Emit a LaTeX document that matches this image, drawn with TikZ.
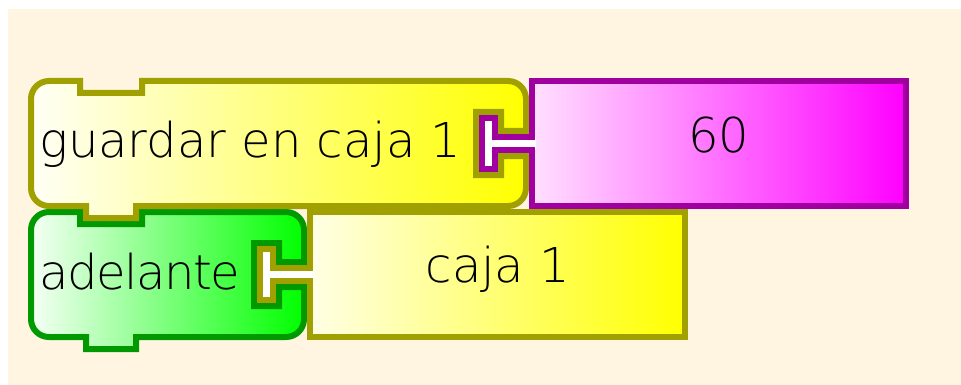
\documentclass[tikz,border=0pt]{standalone}
\usepackage{fontspec}
\IfFontExistsTF{DejaVu Sans ExtraLight}
  {\newfontfamily\blockfont{DejaVu Sans ExtraLight}}
  {\newfontfamily\blockfont{DejaVu Sans}}
\definecolor{cream}{HTML}{FFF5E1}
\definecolor{olivestroke}{HTML}{A0A000}
\definecolor{greenstroke}{HTML}{009900}
\definecolor{magstroke}{HTML}{A000A0}
\tikzset{
  blk/.style={line width=4.5pt, line join=miter},
  txt/.style={inner sep=0pt, font=\blockfont\fontsize{36}{40}\selectfont, text=black},
}
\begin{document}
\begin{tikzpicture}[x=0.75pt,y=-0.75pt]
\useasboundingbox (0,0) rectangle (961,385);
\fill[white] (0,0) rectangle (961,385);
\fill[cream] (8,9) rectangle (961,385);

% green block "adelante"
\draw[blk, draw=greenstroke, left color=green!4!white, right color=green]
 (31,230) .. controls (31,220) and (39,212) .. (49,212) -- (80,212) -- (80,224) -- (142,224) -- (142,212)
 -- (286,212) .. controls (296,212) and (304,220) .. (304,230)
 -- (304,262) -- (279,262) -- (279,243) -- (254,243) -- (254,306) -- (279,306) -- (279,287) -- (304,287)
 -- (304,319) .. controls (304,329) and (296,337) .. (286,337)
 -- (136,337) -- (136,349) -- (86,349) -- (86,337)
 -- (49,337) .. controls (39,337) and (31,329) .. (31,319) -- cycle;

% yellow reporter "caja 1"
\shade[left color=yellow!10!white, right color=yellow] (310,212) rectangle (685,337);
\fill[white] (273,268) -- (273,249) -- (260,249) -- (260,300) -- (273,300) -- (273,281) -- (314,281) -- (314,268) -- cycle;
\draw[blk, draw=olivestroke]
 (310,212) -- (685,212) -- (685,337) -- (310,337) -- (310,281) -- (273,281) -- (273,300) -- (260,300)
 -- (260,249) -- (273,249) -- (273,268) -- (310,268) -- cycle;

% yellow command block "guardar en caja 1"
\draw[blk, draw=olivestroke, left color=yellow!3!white, right color=yellow]
 (31,99) .. controls (31,89) and (39,81) .. (49,81) -- (80,81) -- (80,93) -- (142,93) -- (142,81)
 -- (508,81) .. controls (518,81) and (526,89) .. (526,99)
 -- (526,131) -- (501,131) -- (501,112) -- (476,112) -- (476,175) -- (501,175) -- (501,156) -- (526,156)
 -- (526,188) .. controls (526,198) and (518,206) .. (508,206)
 -- (136,206) -- (136,218) -- (86,218) -- (86,206)
 -- (49,206) .. controls (39,206) and (31,198) .. (31,188) -- cycle;

% magenta reporter "60"
\shade[left color=magenta!12!white, right color=magenta] (532,81) rectangle (906,206);
\fill[white] (495,137) -- (495,118) -- (482,118) -- (482,169) -- (495,169) -- (495,150) -- (536,150) -- (536,137) -- cycle;
\draw[blk, draw=magstroke]
 (532,81) -- (906,81) -- (906,206) -- (532,206) -- (532,150) -- (495,150) -- (495,169) -- (482,169)
 -- (482,118) -- (495,118) -- (495,137) -- (532,137) -- cycle;

% texts
\node[txt, anchor=base west] (tguardar) at (39,157) {guardar en caja 1};
\node[txt, anchor=base west] (tadelante) at (39,289) {\addfontfeature{LetterSpace=-3}adelante};
\node[txt, anchor=base] (tcaja) at (498,282) {caja 1};
\node[txt, anchor=base] (tsixty) at (719,152) {60};
\end{tikzpicture}
\end{document}
